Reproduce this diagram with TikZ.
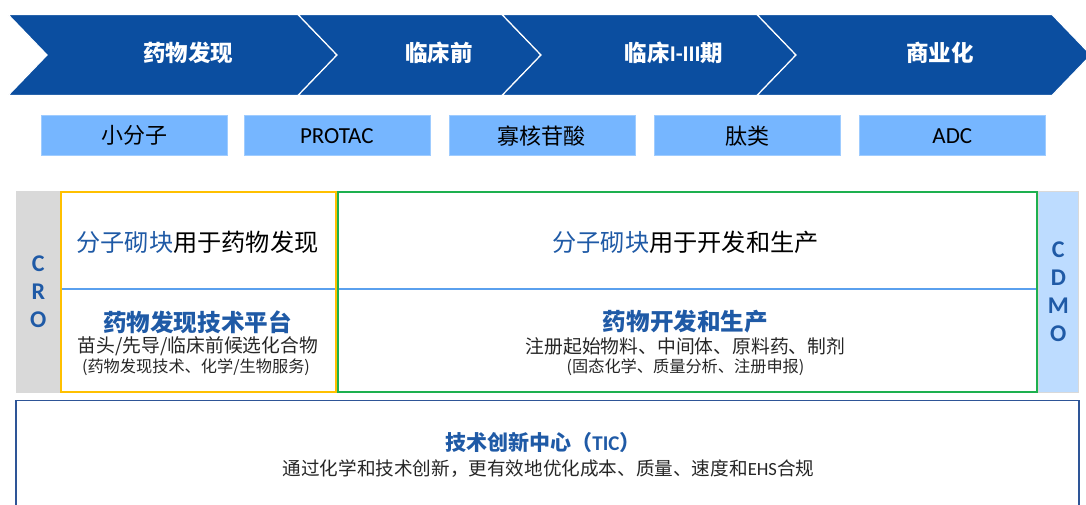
\documentclass[tikz,border=0pt]{standalone}
\usepackage{fontspec}
\setmainfont{Noto Sans CJK SC}
\newfontfamily\lat{Carlito}
\definecolor{chevblue}{HTML}{0B4EA0}
\definecolor{catblue}{HTML}{76B6FF}
\definecolor{tblue}{HTML}{1F5AA6}
\definecolor{crogrey}{HTML}{D9D9D9}
\definecolor{cdmoblue}{HTML}{BDDCFF}
\definecolor{yel}{HTML}{FFC000}
\definecolor{grn}{HTML}{1DB04F}
\definecolor{divblue}{HTML}{5AA0EE}
\definecolor{ticblue}{HTML}{2E5597}
\newcommand{\fs}[1]{\fontsize{#1}{#1}\selectfont}
\begin{document}
\begin{tikzpicture}[x=1pt,y=-1pt,
  chev/.style={fill=chevblue,draw=white,line width=1.2pt,line join=miter},
  chevlabel/.style={text=white,font=\fs{22.5}\bfseries,inner sep=0pt},
  cat/.style={fill=catblue,draw=catblue!70!white,line width=0.6pt,minimum width=186pt,minimum height=40pt,inner sep=0pt,anchor=north west,font=\fs{22}},
  side/.style={draw=black!15,line width=0.6pt,inner sep=0pt,anchor=north west,minimum width=44pt,minimum height=201pt,text=tblue,font=\lat\bfseries\fs{24},align=center},
  head/.style={font=\fs{24.2},inner sep=0pt},
  headb/.style={font=\fs{23.6}\bfseries,text=tblue,inner sep=0pt},
  sub/.style={font=\fs{18.8},text=black!85,inner sep=0pt},
  subsmall/.style={font=\fs{16.2},text=black!85,inner sep=0pt}]
\useasboundingbox (0,0) rectangle (1086,505);
% chevron bar
\path[chev] (8,14.5) -- (298,14.5) -- (337,55) -- (298,95.5) -- (8,95.5) -- (47,55) -- cycle;
\path[chev] (298,14.5) -- (502,14.5) -- (541,55) -- (502,95.5) -- (298,95.5) -- (337,55) -- cycle;
\path[chev] (502,14.5) -- (757,14.5) -- (796,55) -- (757,95.5) -- (502,95.5) -- (541,55) -- cycle;
\path[chev] (757,14.5) -- (1052,14.5) -- (1091,55) -- (1052,95.5) -- (757,95.5) -- (796,55) -- cycle;
\node[chevlabel] (p1) at (188,53) {药物发现};
\node[chevlabel] (p2) at (439,53) {临床前};
\node[chevlabel] (p3) at (674,53) {临床{\lat I-III}期};
\node[chevlabel] (p4) at (940,53) {商业化};
% modalities
\node[cat] (m1) at (41,115.5) {小分子};
\node[cat,font=\lat\fs{23}] (m2) at (243.5,115.5) {PROTAC};
\node[cat] (m3) at (448.5,115.5) {寡核苷酸};
\node[cat] (m4) at (654,115.5) {肽类};
\node[cat,font=\lat\fs{23}] (m5) at (859,115.5) {ADC};
% CRO / CDMO columns
\node[side,fill=crogrey] (cro) at (16,191) {C\\[4pt]R\\[4pt]O};
\node[side,fill=cdmoblue,minimum width=40pt] (cdmo) at (1038,191) {C\\[4pt]D\\[4pt]M\\[4pt]O};
% divider and boxes
\draw[divblue,line width=2pt] (60,288.5) -- (1037,288.5);
\draw[yel,line width=2pt] (61,192) rectangle (336,391.5);
\draw[grn,line width=2pt] (338,192) rectangle (1037,391.5);
% CRO texts
\node[head] (a1) at (197.5,242) {\textcolor{tblue}{分子砌块}用于药物发现};
\node[headb] (a2) at (197.5,322) {药物发现技术平台};
\node[sub] (a3) at (198,346.5) {苗头/先导/临床前候选化合物};
\node[subsmall] (a4) at (196,367.5) {(药物发现技术、化学/生物服务)};
% CDMO texts
\node[head] (b1) at (685.5,242) {\textcolor{tblue}{分子砌块}用于开发和生产};
\node[headb] (b2) at (685.5,322) {药物开发和生产};
\node[sub] (b3) at (685.5,346.5) {注册起始物料、中间体、原料药、制剂};
\node[subsmall] (b4) at (685.5,367.5) {(固态化学、质量分析、注册申报)};
% TIC box
\draw[ticblue,line width=1.6pt] (16,510) -- (16,400.5) -- (1079,400.5) -- (1079,510);
\node[font=\fs{21}\bfseries,text=tblue,inner sep=0pt] (t1) at (543,443) {技术创新中心（{\lat TIC}）};
\node[font=\fs{18.6},text=black!85,inner sep=0pt] (t2) at (548.5,469) {通过化学和技术创新，更有效地优化成本、质量、速度和{\lat EHS}合规};
\end{tikzpicture}
\end{document}
